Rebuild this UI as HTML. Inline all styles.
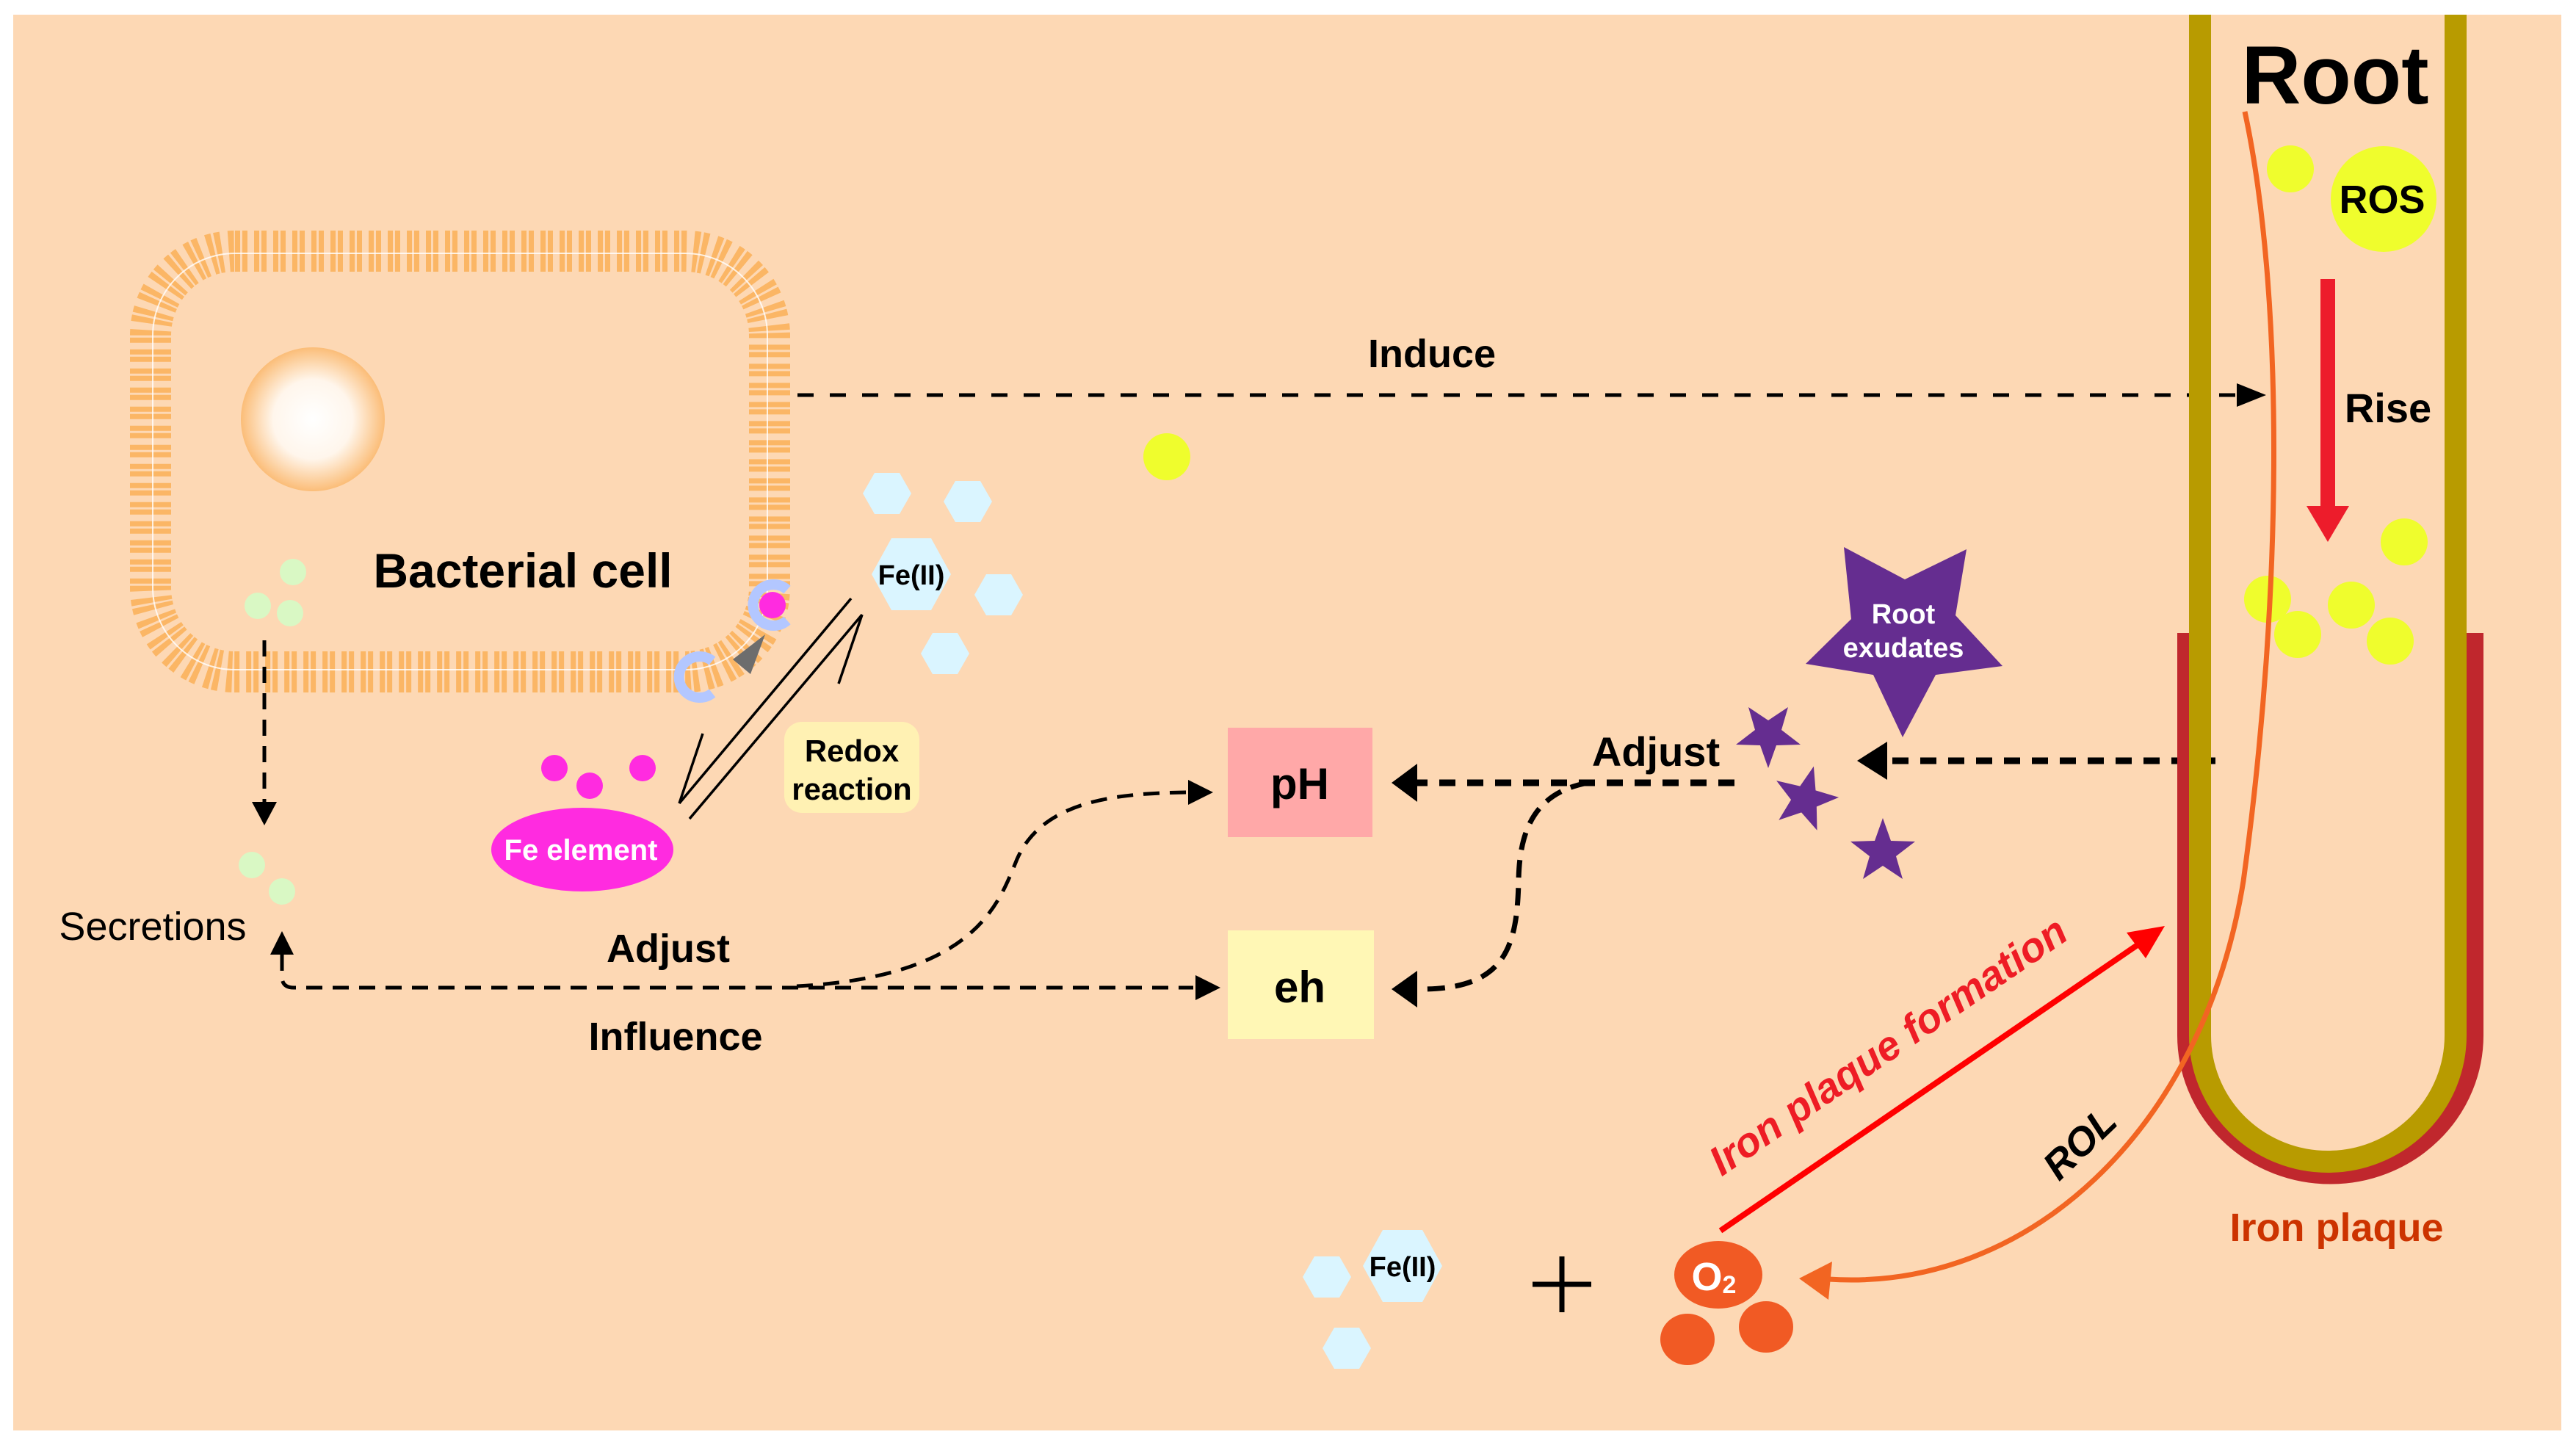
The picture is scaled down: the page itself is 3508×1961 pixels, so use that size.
<!DOCTYPE html>
<html><head><meta charset="utf-8"><style>
html,body{margin:0;padding:0;background:#fff;}
svg{display:block;}
text{font-family:"Liberation Sans",Arial,sans-serif;}
</style></head><body>
<svg width="3508" height="1961" viewBox="0 0 3508 1961" xmlns="http://www.w3.org/2000/svg">
<defs>
<radialGradient id="nuc" cx="50%" cy="50%" r="50%">
<stop offset="0%" stop-color="#ffffff"/><stop offset="55%" stop-color="#fff6ec"/><stop offset="100%" stop-color="#fbbd78"/>
</radialGradient>
</defs>
<rect x="0" y="0" width="3508" height="1961" fill="#fff"/>
<rect x="18" y="20" width="3470" height="1928" fill="#FDD8B4"/>

<!-- bacterial cell -->
<rect x="205" y="342" width="843" height="573" rx="115" fill="none" stroke="#FBB665" stroke-width="56" stroke-dasharray="7 3 7 9"/>
<rect x="208" y="345" width="837" height="567" rx="112" fill="none" stroke="#fff" stroke-width="2" opacity="0.8"/>
<circle cx="426" cy="571" r="98" fill="url(#nuc)"/>
<text x="712" y="800" font-size="66" font-weight="bold" text-anchor="middle">Bacterial cell</text>
<circle cx="399" cy="779" r="18" fill="#D9F8C4"/>
<circle cx="351" cy="825" r="18" fill="#D9F8C4"/>
<circle cx="395" cy="835" r="18" fill="#D9F8C4"/>
<path d="M1072,803 A28,28 0 1 0 1072,845" fill="none" stroke="#B3C7FF" stroke-width="14"/>
<circle cx="1052" cy="824" r="18" fill="#FF2BE0"/>
<path d="M970,900 A28,28 0 1 0 970,944" fill="none" stroke="#B3C7FF" stroke-width="14"/>
<polygon points="1042,864 998,898 1022,918" fill="#6d6d6d"/>

<line x1="360" y1="872" x2="360" y2="1100" stroke="#000" stroke-width="5" stroke-dasharray="22 14"/>
<polygon points="343,1092 377,1092 360,1124" fill="#000"/>
<circle cx="343" cy="1178" r="18" fill="#D9F8C4"/>
<circle cx="384" cy="1214" r="18" fill="#D9F8C4"/>
<text x="208" y="1280" font-size="54" text-anchor="middle">Secretions</text>

<line x1="1086" y1="538" x2="3050" y2="538" stroke="#000" stroke-width="5" stroke-dasharray="22 22"/>
<polygon points="3046,522 3086,538 3046,554" fill="#000"/>
<text x="1950" y="500" font-size="54" font-weight="bold" text-anchor="middle">Induce</text>
<circle cx="1589" cy="622" r="32" fill="#EFFD2D"/>

<g fill="#DAF5FF">
<polygon points="1175,672 1191,644 1225,644 1241,672 1225,700 1191,700"/>
<polygon points="1285,683 1301,655 1335,655 1351,683 1335,711 1301,711"/>
<polygon points="1187,782 1214,733 1268,733 1295,782 1268,831 1214,831"/>
<polygon points="1327,810 1343,782 1377,782 1393,810 1377,838 1343,838"/>
<polygon points="1254,890 1270,862 1304,862 1320,890 1304,918 1270,918"/>
<polygon points="1774,1739 1790,1711 1824,1711 1840,1739 1824,1767 1790,1767"/>
<polygon points="1856,1724 1883,1675 1937,1675 1964,1724 1937,1773 1883,1773"/>
<polygon points="1801,1836 1817,1808 1851,1808 1867,1836 1851,1864 1817,1864"/>
</g>
<text x="1241" y="796" font-size="38" font-weight="bold" text-anchor="middle">Fe(II)</text>
<text x="1910" y="1738" font-size="38" font-weight="bold" text-anchor="middle">Fe(II)</text>

<g stroke="#000" stroke-width="3.5" fill="none">
<line x1="1159" y1="815" x2="925" y2="1094"/>
<line x1="925" y1="1094" x2="957" y2="999"/>
<line x1="939" y1="1115" x2="1174" y2="837"/>
<line x1="1174" y1="837" x2="1142" y2="931"/>
</g>
<rect x="1068" y="983" width="184" height="124" rx="24" fill="#FFF1B3"/>
<text x="1160" y="1037" font-size="42" font-weight="bold" text-anchor="middle">Redox</text>
<text x="1160" y="1089" font-size="42" font-weight="bold" text-anchor="middle">reaction</text>
<circle cx="755" cy="1046" r="18" fill="#FF2BE0"/>
<circle cx="803" cy="1070" r="18" fill="#FF2BE0"/>
<circle cx="875" cy="1046" r="18" fill="#FF2BE0"/>
<ellipse cx="793" cy="1157" rx="124" ry="57" fill="#FF2BE0"/>
<text x="791" y="1171" font-size="40" font-weight="bold" fill="#fff" text-anchor="middle">Fe element</text>

<path d="M384,1300 L384,1330 Q384,1345 400,1345 L1625,1345" fill="none" stroke="#000" stroke-width="5" stroke-dasharray="22 14"/>
<polygon points="368,1300 400,1300 384,1268" fill="#000"/>
<polygon points="1628,1328 1662,1345 1628,1362" fill="#000"/>
<path d="M1085,1343 C1330,1330 1360,1230 1385,1170 C1420,1090 1520,1080 1620,1079" fill="none" stroke="#000" stroke-width="5" stroke-dasharray="22 14"/>
<polygon points="1618,1062 1652,1079 1618,1096" fill="#000"/>
<text x="910" y="1310" font-size="54" font-weight="bold" text-anchor="middle">Adjust</text>
<text x="920" y="1430" font-size="54" font-weight="bold" text-anchor="middle">Influence</text>

<rect x="1672" y="991" width="197" height="149" fill="#FFA8A8"/>
<text x="1770" y="1088" font-size="60" font-weight="bold" text-anchor="middle">pH</text>
<rect x="1672" y="1267" width="199" height="148" fill="#FFF7B5"/>
<text x="1770" y="1365" font-size="60" font-weight="bold" text-anchor="middle">eh</text>

<line x1="2362" y1="1066" x2="1925" y2="1066" stroke="#000" stroke-width="9" stroke-dasharray="22 16"/>
<polygon points="1930,1040 1895,1066 1930,1092" fill="#000"/>
<path d="M2162,1066 C2090,1080 2069,1130 2068,1200 C2066,1290 2050,1347 1935,1347" fill="none" stroke="#000" stroke-width="7" stroke-dasharray="24 14"/>
<polygon points="1930,1322 1895,1347 1930,1372" fill="#000"/>
<text x="2255" y="1043" font-size="56" font-weight="bold" text-anchor="middle">Adjust</text>
<line x1="3017" y1="1036" x2="2565" y2="1036" stroke="#000" stroke-width="9" stroke-dasharray="22 16"/>
<polygon points="2570,1010 2529,1036 2570,1062" fill="#000"/>

<polygon points="2511,745 2594,789 2678,748 2663,838 2727,907 2636,919 2591,1004 2551,919 2459,904 2521,843" fill="#652D90"/>
<text x="2592" y="849" font-size="38" font-weight="bold" fill="#fff" text-anchor="middle">Root</text>
<text x="2592" y="895" font-size="38" font-weight="bold" fill="#fff" text-anchor="middle">exudates</text>
<g fill="#652D90">
<polygon transform="translate(2408,1000) rotate(180)" points="0,-46 11,-15 44,-14 18,6 27,37 0,19 -27,37 -18,6 -44,-14 -11,-15"/>
<polygon transform="translate(2458,1088) rotate(15)" points="0,-46 11,-15 44,-14 18,6 27,37 0,19 -27,37 -18,6 -44,-14 -11,-15"/>
<polygon transform="translate(2564,1160) rotate(0)" points="0,-46 11,-15 44,-14 18,6 27,37 0,19 -27,37 -18,6 -44,-14 -11,-15"/>
</g>

<path d="M2977,862 L2977,1410 A196,190 0 0 0 3370,1410 L3370,862" fill="none" stroke="#C0272D" stroke-width="24"/>
<path d="M2996,20 L2996,1410 A174,172 0 0 0 3344,1410 L3344,20" fill="none" stroke="#B89B00" stroke-width="30"/>
<text x="3180" y="141" font-size="112" font-weight="bold" text-anchor="middle">Root</text>
<circle cx="3119" cy="230" r="32" fill="#EFFD2D"/>
<circle cx="3246" cy="271" r="72" fill="#EFFD2D"/>
<text x="3244" y="290" font-size="54" font-weight="bold" text-anchor="middle">ROS</text>
<rect x="3160" y="380" width="20" height="312" fill="#ED1C2B"/>
<polygon points="3141,689 3199,689 3170,738" fill="#ED1C2B"/>
<text x="3252" y="575" font-size="56" font-weight="bold" text-anchor="middle">Rise</text>
<g fill="#EFFD2D">
<circle cx="3274" cy="738" r="32"/><circle cx="3088" cy="816" r="32"/><circle cx="3129" cy="864" r="32"/>
<circle cx="3202" cy="824" r="32"/><circle cx="3255" cy="873" r="32"/>
</g>
<text x="3182" y="1690" font-size="54" font-weight="bold" fill="#CC3300" text-anchor="middle">Iron plaque</text>

<path d="M3057,152 C3110,400 3110,800 3055,1200 C3000,1540 2760,1760 2490,1742" fill="none" stroke="#F26522" stroke-width="7"/>
<polygon points="2450,1741 2495,1718 2490,1770" fill="#F26522"/>
<text transform="translate(2845,1570) rotate(-44)" font-size="54" font-weight="bold" font-style="italic" text-anchor="middle">ROL</text>

<line x1="2343" y1="1676" x2="2915" y2="1284" stroke="#FF0000" stroke-width="8"/>
<polygon points="2948,1261 2896,1270 2922,1305" fill="#FF0000"/>
<text transform="translate(2582,1440) rotate(-34.4)" font-size="56" font-weight="bold" font-style="italic" fill="#EE1C25" text-anchor="middle">Iron plaque formation</text>

<line x1="2087" y1="1749" x2="2167" y2="1749" stroke="#000" stroke-width="7"/>
<line x1="2127" y1="1711" x2="2127" y2="1787" stroke="#000" stroke-width="7"/>
<ellipse cx="2340" cy="1736" rx="60" ry="46" fill="#F15A24"/>
<text x="2334" y="1757" font-size="54" font-weight="bold" fill="#fff" text-anchor="middle">O<tspan font-size="34" dy="4">2</tspan></text>
<ellipse cx="2298" cy="1824" rx="37" ry="35" fill="#F15A24"/>
<ellipse cx="2405" cy="1807" rx="37" ry="35" fill="#F15A24"/>
</svg>
</body></html>
